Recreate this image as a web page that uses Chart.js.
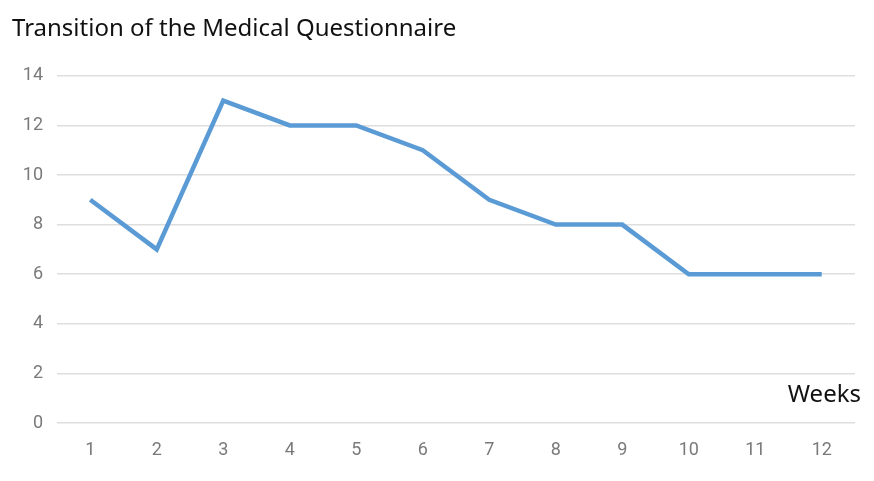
<!DOCTYPE html>
<html>
<head>
<meta charset="utf-8">
<script src="https://cdn.jsdelivr.net/npm/chart.js@4"></script>
<style>
html,body{margin:0;padding:0;background:#fff;}
#wrap{width:874px;height:481px;}
</style>
</head>
<body>
<div id="wrap"><canvas id="c" width="874" height="481"></canvas></div>
<script>
const weeks = ['1','2','3','4','5','6','7','8','9','10','11','12'];
const scores = [9, 7, 13, 12, 12, 11, 9, 8, 8, 6, 6, 6];
const titleText = 'Transition of the Medical Questionnaire';
const xAxisLabel = 'Weeks';

const weeksLabel = {
  id: 'weeksLabel',
  afterDraw(chart) {
    const ctx = chart.ctx;
    ctx.save();
    ctx.font = '24px "Noto Sans"';
    ctx.fillStyle = '#111';
    ctx.textAlign = 'right';
    ctx.textBaseline = 'middle';
    ctx.fillText(xAxisLabel, 861, 395);
    ctx.restore();
  }
};

new Chart(document.getElementById('c'), {
  type: 'line',
  data: {
    labels: weeks,
    datasets: [{
      data: scores,
      borderColor: '#5B9BD5',
      borderWidth: 4.5,
      pointRadius: 0,
      tension: 0,
      fill: false
    }]
  },
  options: {
    responsive: false,
    animation: false,
    layout: { padding: { left: 12, right: 19, top: 0, bottom: 0 } },
    plugins: {
      legend: { display: false },
      tooltip: { enabled: false },
      title: {
        display: true,
        text: titleText,
        align: 'start',
        color: '#111',
        font: { family: '"Noto Sans"', size: 24, weight: 'normal' },
        padding: { top: 15, bottom: 32 }
      }
    },
    scales: {
      x: {
        offset: true,
        grid: { display: false, drawTicks: false },
        border: { display: false },
        ticks: { color: '#7a7a7a', font: { family: 'Roboto', size: 18 }, padding: 17, maxRotation: 0 },
        afterFit(s) { s.height = 58; }
      },
      y: {
        min: 0, max: 14,
        grid: { color: '#dedede', lineWidth: 1.5, drawTicks: false },
        border: { display: false },
        ticks: { stepSize: 2, color: '#7a7a7a', font: { family: 'Roboto', size: 18 }, padding: 14 },
        afterFit(s) { s.width = 45; }
      }
    }
  },
  plugins: [weeksLabel]
});
</script>
</body>
</html>
